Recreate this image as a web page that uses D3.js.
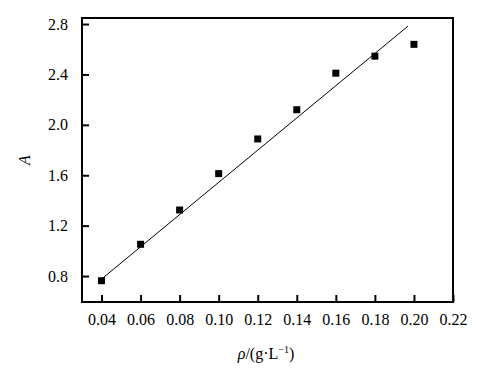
<!DOCTYPE html>
<html>
<head>
<meta charset="utf-8">
<script src="https://cdn.jsdelivr.net/npm/d3@7"></script>
<style>
body { margin: 0; background: #fff; }
svg text { font-family: "Liberation Serif", "Times New Roman", serif; fill: #000; }
</style>
</head>
<body>
<script>
// data
var conc = [0.04, 0.06, 0.08, 0.10, 0.12, 0.14, 0.16, 0.18, 0.20];
var absorb = [0.763, 1.052, 1.324, 1.613, 1.888, 2.12, 2.41, 2.545, 2.639];
var fitX = [0.04, 0.197];
var fitY = [0.776, 2.784];
var xTicks = [0.04, 0.06, 0.08, 0.10, 0.12, 0.14, 0.16, 0.18, 0.20, 0.22];
var yTicks = [0.8, 1.2, 1.6, 2.0, 2.4, 2.8];

var width = 501, height = 374;
var margin = {left: 82, top: 18, right: 48, bottom: 72};

var svg = d3.select('body').append('svg')
    .attr('width', width)
    .attr('height', height);

var x = d3.scaleLinear().domain([0.03, 0.22]).range([margin.left, width - margin.right]);
var y = d3.scaleLinear().domain([0.594, 2.848]).range([height - margin.bottom, margin.top]);

svg.append('g')
    .attr('transform', 'translate(0,' + (height - margin.bottom) + ')')
    .call(d3.axisBottom(x).tickValues(xTicks).tickFormat(d3.format('.2f'))
        .tickSizeInner(-7).tickSizeOuter(0).tickPadding(12));

svg.append('g')
    .attr('transform', 'translate(' + margin.left + ',0)')
    .call(d3.axisLeft(y).tickValues(yTicks).tickFormat(d3.format('.1f'))
        .tickSizeInner(-7).tickSizeOuter(0).tickPadding(14));

svg.selectAll('.domain').remove();
svg.selectAll('.tick line').attr('stroke', '#000').attr('stroke-width', 2);
svg.selectAll('.tick text')
    .style('font-size', '16px')
    .style('font-family', '"Liberation Serif", serif');

// frame
svg.append('rect')
    .attr('x', x.range()[0])
    .attr('y', y.range()[1])
    .attr('width', x.range()[1] - x.range()[0])
    .attr('height', y.range()[0] - y.range()[1])
    .attr('fill', 'none')
    .attr('stroke', '#000')
    .attr('stroke-width', 2);

// fitted line
svg.append('line')
    .attr('x1', x(fitX[0])).attr('y1', y(fitY[0]))
    .attr('x2', x(fitX[1])).attr('y2', y(fitY[1]))
    .attr('stroke', '#000')
    .attr('stroke-width', 1);

var s = 7;
svg.selectAll('rect.pt')
    .data(conc)
    .enter()
    .append('rect')
    .attr('class', 'pt')
    .attr('x', function(d) { return x(d) - s / 2; })
    .attr('y', function(d, i) { return y(absorb[i]) - s / 2; })
    .attr('width', s)
    .attr('height', s)
    .attr('fill', '#000');

// axis titles
svg.append('text')
    .attr('transform', 'translate(30,160) rotate(-90)')
    .attr('text-anchor', 'middle')
    .style('font-size', '16px')
    .style('font-style', 'italic')
    .text('A');

var xl = svg.append('text')
    .attr('x', 266)
    .attr('y', 359)
    .attr('text-anchor', 'middle')
    .style('font-size', '16px');
xl.append('tspan').style('font-style', 'italic').text('ρ');
xl.append('tspan').text('/(g·L');
xl.append('tspan').style('font-size', '10px').attr('dy', -6).text('−1');
xl.append('tspan').attr('dy', 6).text(')');
</script>
</body>
</html>
